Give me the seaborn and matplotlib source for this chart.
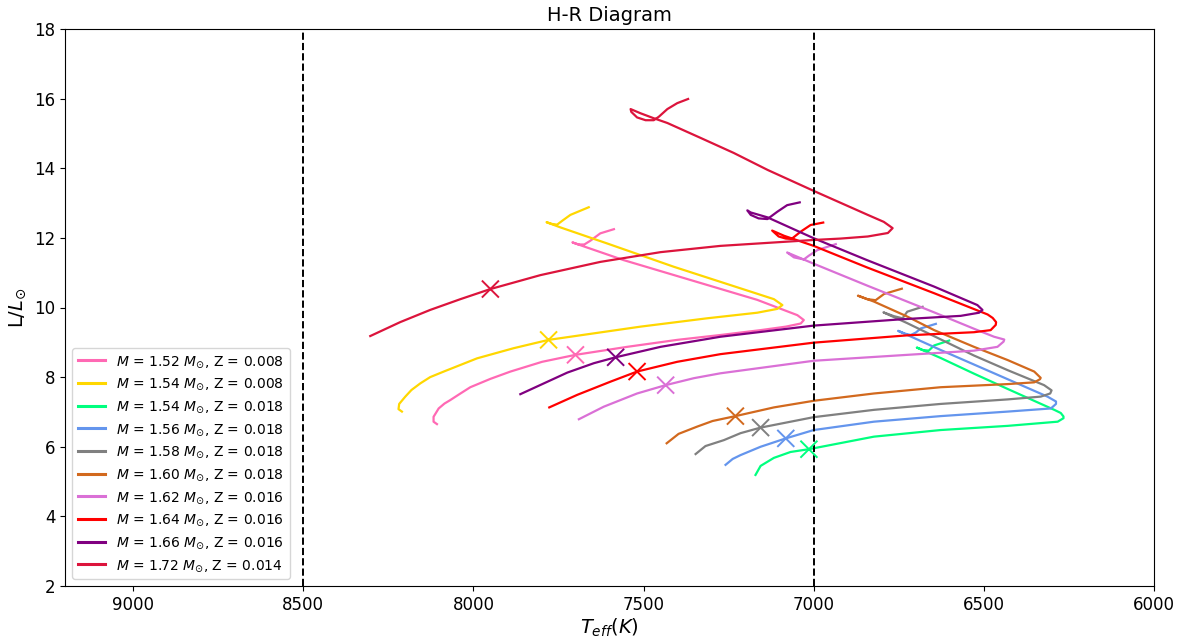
import numpy as np
import pandas as pd
import matplotlib
matplotlib.use("Agg")
import matplotlib.pyplot as plt
import seaborn as sns

# Evolutionary tracks: effective temperature (K) and luminosity (L/Lsun)
labels = [
    r"$M$ = 1.52 $M_{\odot}$, Z = 0.008",
    r"$M$ = 1.54 $M_{\odot}$, Z = 0.008",
    r"$M$ = 1.54 $M_{\odot}$, Z = 0.018",
    r"$M$ = 1.56 $M_{\odot}$, Z = 0.018",
    r"$M$ = 1.58 $M_{\odot}$, Z = 0.018",
    r"$M$ = 1.60 $M_{\odot}$, Z = 0.018",
    r"$M$ = 1.62 $M_{\odot}$, Z = 0.016",
    r"$M$ = 1.64 $M_{\odot}$, Z = 0.016",
    r"$M$ = 1.66 $M_{\odot}$, Z = 0.016",
    r"$M$ = 1.72 $M_{\odot}$, Z = 0.014",
]
colors = ["hotpink", "gold", "springgreen", "cornflowerblue", "gray",
          "chocolate", "orchid", "red", "purple", "crimson"]

teff_152_008 = [8107, 8117, 8117, 8102, 8085, 8068, 8038, 8009, 7950, 7891, 7798, 7700,
                7548, 7401, 7274, 7156, 7082, 7038, 7029, 7048, 7166, 7362, 7558, 7671,
                7709, 7691, 7674, 7656, 7627, 7587]
lum_152_008 = [6.65, 6.72, 6.86, 7.10, 7.24, 7.34, 7.53, 7.71, 7.95, 8.16, 8.44, 8.64,
               8.87, 9.07, 9.21, 9.35, 9.45, 9.54, 9.64, 9.78, 10.22, 10.79, 11.36, 11.74,
               11.87, 11.81, 11.81, 11.92, 12.13, 12.25]

teff_154_008 = [8210, 8220, 8218, 8200, 8182, 8156, 8127, 8087, 7989, 7882, 7779, 7509,
                7313, 7166, 7107, 7092, 7117, 7215, 7411, 7607, 7744, 7785, 7769, 7754,
                7739, 7715, 7661]
lum_154_008 = [7.01, 7.08, 7.23, 7.44, 7.63, 7.82, 8.00, 8.16, 8.54, 8.83, 9.07, 9.45,
               9.69, 9.85, 9.96, 10.07, 10.24, 10.55, 11.17, 11.84, 12.30, 12.45, 12.40, 12.38,
               12.49, 12.66, 12.88]

teff_154_018 = [7171, 7156, 7117, 7068, 7014, 6823, 6627, 6430, 6283, 6266, 6266, 6274,
                6293, 6430, 6529, 6627, 6697, 6680, 6662, 6646, 6602]
lum_154_018 = [5.19, 5.45, 5.68, 5.85, 5.93, 6.29, 6.48, 6.60, 6.72, 6.82, 6.87, 6.97,
               7.06, 7.66, 8.10, 8.55, 8.85, 8.78, 8.76, 8.91, 9.05]

teff_156_018 = [7259, 7238, 7215, 7156, 7082, 7000, 6823, 6627, 6430, 6303, 6288, 6288,
                6313, 6430, 6627, 6752, 6732, 6715, 6700, 6685, 6641]
lum_156_018 = [5.48, 5.65, 5.76, 6.00, 6.24, 6.48, 6.72, 6.88, 7.01, 7.10, 7.23, 7.30,
               7.44, 7.94, 8.78, 9.33, 9.25, 9.21, 9.28, 9.40, 9.53]

teff_158_018 = [7347, 7318, 7264, 7215, 7156, 7000, 6823, 6627, 6430, 6333, 6305, 6301,
                6323, 6430, 6529, 6725, 6795, 6764, 6739, 6725, 6680]
lum_158_018 = [5.79, 6.02, 6.19, 6.39, 6.55, 6.85, 7.06, 7.23, 7.36, 7.44, 7.53, 7.62,
               7.77, 8.20, 8.62, 9.55, 9.86, 9.75, 9.69, 9.88, 10.02]

teff_160_018 = [7432, 7397, 7342, 7297, 7230, 7117, 7000, 6823, 6627, 6430, 6352, 6335,
                6333, 6352, 6430, 6529, 6646, 6725, 6823, 6870, 6843, 6818, 6793, 6741]
lum_160_018 = [6.10, 6.37, 6.58, 6.74, 6.88, 7.13, 7.32, 7.53, 7.71, 7.80, 7.85, 7.94,
               7.98, 8.16, 8.49, 8.87, 9.35, 9.74, 10.17, 10.34, 10.24, 10.21, 10.39, 10.54]

teff_162_016 = [7690, 7617, 7519, 7435, 7352, 7274, 7000, 6725, 6529, 6460, 6442,
                6440, 6470, 6529, 6646, 6843, 6998, 7078, 7058, 7029, 7014, 6989, 6935]
lum_162_016 = [6.79, 7.15, 7.53, 7.77, 7.97, 8.11, 8.47, 8.64, 8.76, 8.87, 9.02,
               9.08, 9.16, 9.39, 9.86, 10.63, 11.25, 11.58, 11.44, 11.38, 11.49, 11.65, 11.82]

teff_164_016 = [7777, 7695, 7597, 7519, 7401, 7274, 7000, 6725, 6529, 6480, 6465,
                6464, 6474, 6489, 6646, 6843, 7000, 7087, 7122, 7103, 7082, 7065,
                7038, 7009, 6972]
lum_164_016 = [7.13, 7.49, 7.87, 8.16, 8.44, 8.66, 8.99, 9.20, 9.29, 9.35, 9.50,
               9.58, 9.70, 9.80, 10.41, 11.15, 11.77, 12.06, 12.21, 12.04, 11.98, 11.97,
               12.18, 12.37, 12.44]

teff_166_016 = [7862, 7793, 7724, 7646, 7582, 7450, 7274, 7000, 6744, 6568, 6514,
                6504, 6519, 6646, 6843, 7000, 7136, 7185, 7195, 7185, 7162, 7136,
                7107, 7078, 7041]
lum_166_016 = [7.51, 7.82, 8.13, 8.40, 8.57, 8.87, 9.16, 9.48, 9.66, 9.76, 9.85,
               9.93, 10.07, 10.60, 11.36, 11.99, 12.59, 12.73, 12.79, 12.66, 12.56, 12.54,
               12.75, 12.94, 13.02]

teff_172_014 = [8303, 8215, 8127, 8038, 7950, 7803, 7627, 7450, 7274, 7097, 7000,
                6921, 6841, 6782, 6768, 6794, 6841, 7000, 7135, 7235, 7332, 7430,
                7471, 7509, 7538, 7536, 7519, 7494, 7470, 7455, 7430, 7401, 7369]
lum_172_014 = [9.18, 9.58, 9.93, 10.24, 10.53, 10.93, 11.31, 11.59, 11.77, 11.88, 11.94,
               11.98, 12.04, 12.14, 12.28, 12.46, 12.66, 13.35, 13.95, 14.44, 14.87, 15.30,
               15.44, 15.58, 15.70, 15.62, 15.46, 15.38, 15.38, 15.48, 15.70, 15.87, 15.99]

teff_tracks = [teff_152_008, teff_154_008, teff_154_018, teff_156_018, teff_158_018,
               teff_160_018, teff_162_016, teff_164_016, teff_166_016, teff_172_014]
lum_tracks = [lum_152_008, lum_154_008, lum_154_018, lum_156_018, lum_158_018,
              lum_160_018, lum_162_016, lum_164_016, lum_166_016, lum_172_014]

# Highlighted model on each track
marker_teff = [7700, 7779, 7014, 7082, 7156, 7230, 7435, 7519, 7582, 7950]
marker_lum = [8.64, 9.07, 5.93, 6.24, 6.55, 6.88, 7.77, 8.16, 8.57, 10.53]

# Reference temperatures
vline_teff = [8500, 7000]

frames = []
for lab, t, l in zip(labels, teff_tracks, lum_tracks):
    frames.append(pd.DataFrame({"Teff": t, "L": l, "track": lab,
                                "step": np.arange(len(t))}))
tracks = pd.concat(frames, ignore_index=True)
marks = pd.DataFrame({"Teff": marker_teff, "L": marker_lum, "track": labels})
palette = dict(zip(labels, colors))

fig = plt.figure(figsize=(11.78, 6.39), dpi=100)
ax = fig.add_axes([65 / 1178, 1 - 586 / 639, (1154 - 65) / 1178, (586 - 29) / 639])

sns.lineplot(data=tracks, x="Teff", y="L", hue="track", hue_order=labels,
             palette=palette, sort=False, estimator=None, units="track",
             linewidth=1.6, ax=ax, legend=True)
sns.scatterplot(data=marks, x="Teff", y="L", hue="track", hue_order=labels,
                palette=palette, marker="x", s=150, linewidth=1.4,
                ax=ax, legend=False, zorder=3)

for v in vline_teff:
    ax.axvline(v, color="black", linestyle="--", linewidth=1.4)

ax.set_xlim(9200, 6000)
ax.set_ylim(2, 18)
ax.set_xticks([9000, 8500, 8000, 7500, 7000, 6500, 6000])
ax.set_yticks(range(2, 19, 2))
ax.tick_params(labelsize=12)
ax.set_xlabel(r"$T_{eff} (K)$", fontsize=14, labelpad=2)
ax.set_ylabel(r"L/$L_{\odot}$", fontsize=14)
ax.set_title("H-R Diagram", fontsize=14)

leg = ax.legend(loc="lower left", fontsize=10, title=None)
for line in leg.get_lines():
    line.set_linewidth(2.2)

fig.savefig("out.png", dpi=100)
